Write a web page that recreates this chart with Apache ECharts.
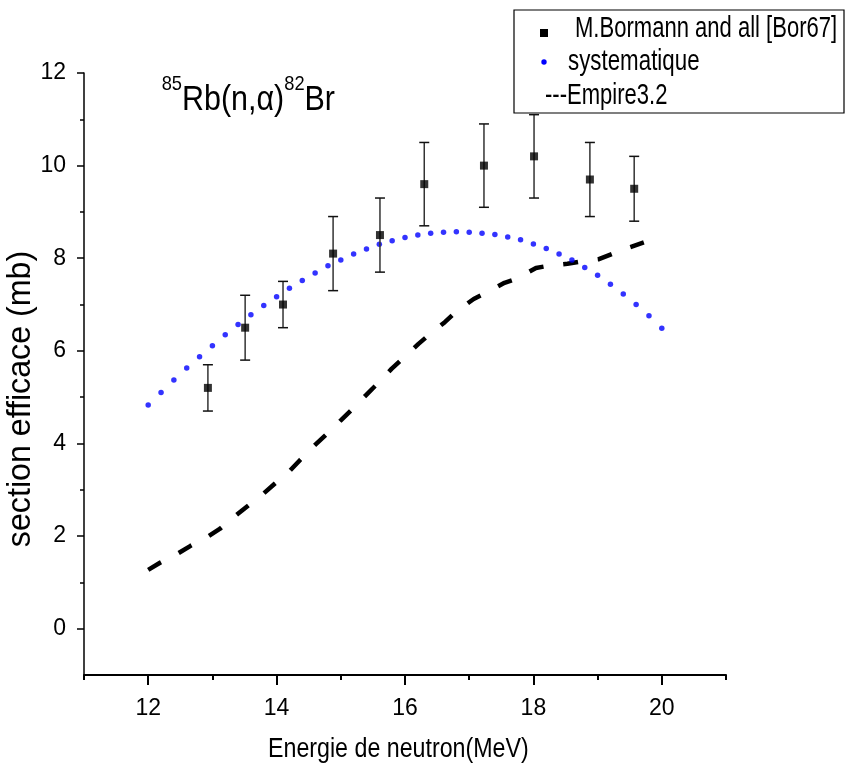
<!DOCTYPE html>
<html>
<head>
<meta charset="utf-8">
<script src="https://cdn.jsdelivr.net/npm/echarts@6/dist/echarts.min.js"></script>
<style>
html,body{margin:0;padding:0;background:#fff;}
#chart{width:846px;height:773px;}
</style>
</head>
<body>
<div id="chart"></div>
<script>
// Experimental data: M.Bormann and all [Bor67]
const expX   = [12.93, 13.51, 14.10, 14.88, 15.61, 16.30, 17.23, 18.01, 18.88, 19.57];
const expY   = [5.2, 6.5, 7.0, 8.1, 8.5, 9.6, 10.0, 10.2, 9.7, 9.5];
const expErr = [0.5, 0.7, 0.5, 0.8, 0.8, 0.9, 0.9, 0.9, 0.8, 0.7];

// systematique (dotted blue)
const sysX = [12.0,12.2,12.4,12.6,12.8,13.0,13.2,13.4,13.6,13.8,14.0,14.2,14.4,14.6,14.8,15.0,15.2,15.4,15.6,15.8,16.0,16.2,16.4,16.6,16.8,17.0,17.2,17.4,17.6,17.8,18.0,18.2,18.4,18.6,18.8,19.0,19.2,19.4,19.6,19.8,20.0];
const sysY = [4.83,5.10,5.37,5.63,5.87,6.11,6.35,6.57,6.78,6.98,7.17,7.35,7.52,7.68,7.84,7.96,8.09,8.20,8.30,8.38,8.45,8.50,8.54,8.56,8.57,8.56,8.54,8.51,8.46,8.40,8.31,8.21,8.09,7.96,7.80,7.63,7.44,7.23,7.00,6.76,6.49];

// Empire3.2 (dashed black)
const empX = [12.0,12.19,12.47,12.66,12.93,13.12,13.36,13.54,13.79,13.97,14.20,14.37,14.60,14.77,15.00,15.17,15.39,15.57,15.79,15.96,16.21,16.37,16.62,16.80,17.07,17.27,17.55,17.74,18.04,18.24,18.53,18.74,19.02,19.22,19.51,19.72];
const empY = [1.27,1.43,1.63,1.79,1.99,2.16,2.44,2.64,2.91,3.13,3.40,3.65,3.97,4.19,4.50,4.73,5.04,5.29,5.61,5.83,6.15,6.34,6.62,6.85,7.12,7.26,7.47,7.56,7.79,7.84,7.88,7.93,7.98,8.09,8.24,8.34];

// Axis ticks
const xMajor = [12, 14, 16, 18, 20];
const xMinor = [11, 13, 15, 17, 19, 21];
const yMajor = [0, 2, 4, 6, 8, 10, 12];
const yMinor = [1, 3, 5, 7, 9, 11];

const FONT = "'Liberation Sans', Arial, sans-serif";
const NARROW = "'Liberation Sans Narrow', 'Arial Narrow', 'Liberation Sans', sans-serif";

const chart = echarts.init(document.getElementById('chart'), null, {renderer: 'canvas'});

const expData = expX.map((x, i) => [x, expY[i]]);
const errData = expX.map((x, i) => [x, expY[i] - expErr[i], expY[i] + expErr[i]]);
const sysData = sysX.map((x, i) => [x, sysY[i]]);
const empData = empX.map((x, i) => [x, empY[i]]);

const grid = {left: 84, right: 120, top: 73, bottom: 98};

const option = {
  animation: false,
  backgroundColor: '#fff',
  grid: grid,
  xAxis: [
    {
      type: 'value', min: 11, max: 21, gridIndex: 0, position: 'bottom',
      axisLine: {show: true, onZero: false, lineStyle: {color: '#000', width: 2}},
      axisTick: {show: true, inside: false, length: 10, customValues: xMajor, lineStyle: {color: '#000', width: 2}},
      axisLabel: {show: true, customValues: xMajor, margin: 22, color: '#000', fontFamily: NARROW, fontSize: 23},
      splitLine: {show: false}
    },
    {
      type: 'value', min: 11, max: 21, gridIndex: 0, position: 'bottom',
      axisLine: {show: false, onZero: false},
      axisTick: {show: true, inside: false, length: 5, customValues: xMinor, lineStyle: {color: '#000', width: 2}},
      axisLabel: {show: false},
      splitLine: {show: false}
    }
  ],
  yAxis: [
    {
      type: 'value', min: -1, max: 12, gridIndex: 0, position: 'left',
      axisLine: {show: true, onZero: false, lineStyle: {color: '#000', width: 1.5}},
      axisTick: {show: true, inside: false, length: 7, customValues: yMajor, lineStyle: {color: '#000', width: 1.5}},
      axisLabel: {show: true, customValues: yMajor, margin: 18, color: '#000', fontFamily: NARROW, fontSize: 23},
      splitLine: {show: false}
    },
    {
      type: 'value', min: -1, max: 12, gridIndex: 0, position: 'left',
      axisLine: {show: false, onZero: false},
      axisTick: {show: true, inside: false, length: 4, customValues: yMinor, lineStyle: {color: '#000', width: 1.5}},
      axisLabel: {show: false},
      splitLine: {show: false}
    }
  ],
  series: [
    {
      name: 'Empire3.2', type: 'line', xAxisIndex: 0, yAxisIndex: 0,
      data: empData, showSymbol: false, smooth: false,
      lineStyle: {color: '#000', width: 4.5, type: [14, 20], cap: 'butt'},
      z: 2
    },
    {
      name: 'systematique', type: 'scatter', xAxisIndex: 0, yAxisIndex: 0,
      data: sysData, symbol: 'circle', symbolSize: 5.5,
      itemStyle: {color: '#0000ff'},
      z: 3
    },
    {
      name: 'errbars', type: 'custom', xAxisIndex: 0, yAxisIndex: 0,
      data: errData,
      renderItem: function (params, api) {
        const x = api.value(0), lo = api.value(1), hi = api.value(2);
        const pLo = api.coord([x, lo]);
        const pHi = api.coord([x, hi]);
        const w = 5;
        const st = {stroke: '#111', lineWidth: 1.5};
        return {
          type: 'group',
          children: [
            {type: 'line', shape: {x1: pLo[0], y1: pLo[1], x2: pHi[0], y2: pHi[1]}, style: {stroke: '#333', lineWidth: 1.5}},
            {type: 'line', shape: {x1: pLo[0] - w, y1: pLo[1], x2: pLo[0] + w, y2: pLo[1]}, style: st},
            {type: 'line', shape: {x1: pHi[0] - w, y1: pHi[1], x2: pHi[0] + w, y2: pHi[1]}, style: st}
          ]
        };
      },
      z: 4
    },
    {
      name: 'M.Bormann and all [Bor67]', type: 'scatter', xAxisIndex: 0, yAxisIndex: 0,
      data: expData, symbol: 'rect', symbolSize: 8,
      itemStyle: {color: '#000'},
      z: 5
    }
  ],
  graphic: [
    // legend box
    {type: 'rect', shape: {x: 514, y: 10, width: 330, height: 103}, style: {fill: '#fff', stroke: '#000', lineWidth: 1.2}, z: 10},
    {type: 'rect', shape: {x: 540, y: 29, width: 8, height: 8}, style: {fill: '#000'}, z: 11},
    {type: 'circle', shape: {cx: 544, cy: 62, r: 2.7}, style: {fill: '#0000ff'}, z: 11},
    {type: 'text', x: 575, y: 29, scaleX: 0.76, z: 11,
      style: {text: 'M.Bormann and all [Bor67]', fill: '#000', font: '29px ' + FONT, textAlign: 'left', textVerticalAlign: 'middle'}},
    {type: 'text', x: 568, y: 61.5, scaleX: 0.77, z: 11,
      style: {text: 'systematique', fill: '#000', font: '29px ' + FONT, textAlign: 'left', textVerticalAlign: 'middle'}},
    {type: 'text', x: 545, y: 96, scaleX: 0.76, z: 11,
      style: {text: '---Empire3.2', fill: '#000', font: '29px ' + FONT, textAlign: 'left', textVerticalAlign: 'middle'}},
    // reaction title
    {type: 'text', x: 161.7, y: 74, scaleX: 0.87, z: 11,
      style: {
        text: '{s|85}{m|Rb(n,α)}{s|82}{m|Br}',
        textAlign: 'left', textVerticalAlign: 'top',
        rich: {
          s: {fontFamily: FONT, fontSize: 21, color: '#000', lineHeight: 10, verticalAlign: 'top'},
          m: {fontFamily: FONT, fontSize: 35, color: '#000', lineHeight: 44, verticalAlign: 'bottom'}
        }
      }},
    // axis names
    {type: 'text', x: 268, y: 750, scaleX: 0.86, z: 11,
      style: {text: 'Energie de neutron(MeV)', fill: '#000', font: '27px ' + FONT, textAlign: 'left', textVerticalAlign: 'middle'}},
    {type: 'text', x: 21, y: 399, rotation: Math.PI / 2, scaleX: 0.975, z: 11,
      style: {text: 'section efficace (mb)', fill: '#000', font: '33px ' + FONT, textAlign: 'center', textVerticalAlign: 'middle'}}
  ]
};

chart.setOption(option);

// Fit the dash period so that 17 full dash periods span from the first
// dash start to the last-but-one dash start (index 34), as in the reference.
(function fitDash() {
  const pts = empData.map(d => chart.convertToPixel({xAxisIndex: 0, yAxisIndex: 0}, d));
  let L = 0;
  for (let i = 1; i <= 34; i++) {
    const dx = pts[i][0] - pts[i - 1][0], dy = pts[i][1] - pts[i - 1][1];
    L += Math.sqrt(dx * dx + dy * dy);
  }
  const period = L / 17;
  const dash = period * 0.43;
  chart.setOption({series: [{name: 'Empire3.2', lineStyle: {type: [dash, period - dash]}}]});
})();
</script>
</body>
</html>
